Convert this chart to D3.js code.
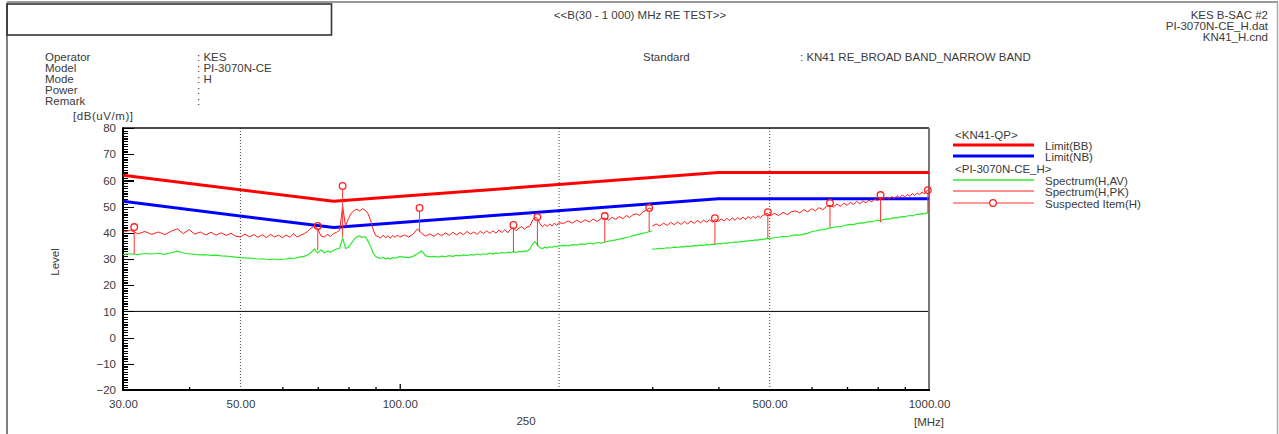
<!DOCTYPE html>
<html><head><meta charset="utf-8">
<script src="https://cdn.jsdelivr.net/npm/d3@7"></script>
<style>
html,body{margin:0;padding:0;background:#fff;overflow:hidden}
svg{display:block;font-family:"Liberation Sans",Arial,sans-serif}
text{fill:#3a3a3a;font-size:11.5px}
</style></head><body>
<script>
// ---------- DATA ----------
const limitFreq = [30, 75, 400, 1000];
const limitBB   = [62, 52, 63, 63];
const limitNB   = [52, 42, 53, 53];

// band 1 (30 - 300 MHz)
const freqLow = [
 30,31,32,33,34,35,36,37,38,39,40,41,42,43,44,45,46,47,48,49,
 50,51,52,53,54,55,56,57,58,59,60,61,62,63,64,65,66,67,68,69,
 70,71,72,73,74,75,76,77,78,79,80,81,82,83,84,85,86,87,88,89,
 90,91,92,93,94,95,96,97,98,99,100,
 102,104,106,108,110,112,114,116,118,120,122,124,126,128,130,132,134,136,138,140,
 142,144,146,148,150,152,154,156,158,160,162,164,166,168,170,172,174,176,178,180,
 182,184,186,188,190,192,194,196,198,200,
 204,208,212,216,220,224,228,232,236,240,244,248,252,256,260,264,268,272,276,280,
 284,288,292,296,300];
const pkLow = [
 40.2,41.0,39.6,40.5,39.4,40.3,39.3,40.6,41.5,39.7,
 41.2,39.5,40.3,39.2,40.2,39.1,40.0,39.0,39.8,38.7,
 38.4,39.5,38.5,39.3,38.3,39.2,38.2,39.4,38.4,39.1,
 38.1,39.2,38.3,39.6,38.4,39.1,39.7,40.5,41.8,42.5,
 41.5,38.8,38.4,39.4,38.6,39.7,40.2,41.0,50.0,42.5,
 45.5,47.5,48.5,49.0,48.3,49.2,48.6,47.5,45.0,41.5,
 39.0,38.6,38.0,39.1,38.1,38.9,37.9,39.0,38.2,39.2,38.3,
 39.2,38.4,39.5,41.5,39.8,38.7,39.6,38.6,39.8,38.9,
 40.0,39.0,40.2,39.2,40.1,39.3,40.5,39.5,40.3,39.4,
 40.6,39.7,40.8,39.8,40.7,39.9,41.0,40.1,41.2,40.0,
 41.4,41.8,40.8,41.8,42.4,41.3,42.2,42.5,44.5,46.0,
 45.5,43.5,42.3,43.2,42.4,43.4,42.6,43.7,42.8,43.8,
 43.6,44.5,43.7,44.8,43.9,45.0,44.1,45.2,44.3,45.4,
 45.6,44.8,45.9,45.1,46.2,45.4,46.6,45.8,47.0,47.2,
 46.6,48.0,48.5,49.5,48.8];
const avLow = [
 31.8,32.0,31.7,32.1,31.9,32.2,31.8,32.4,33.0,32.3,
 32.0,31.8,31.6,31.7,31.4,31.5,31.2,31.1,30.9,30.7,
 30.5,30.4,30.3,30.2,30.0,30.1,29.9,29.8,30.0,29.8,
 29.9,30.0,30.3,30.1,30.5,30.8,31.0,31.5,32.5,33.8,
 32.3,33.5,32.4,33.0,32.6,33.3,33.8,34.2,38.0,34.0,
 34.5,36.0,37.5,38.5,38.8,38.2,38.6,37.0,35.0,32.5,
 31.0,30.5,30.2,30.6,30.1,30.4,30.0,30.5,30.3,30.6,30.9,
 30.7,30.5,31.0,32.0,33.0,31.2,30.8,31.0,30.7,31.1,
 30.9,31.3,31.0,31.4,31.2,31.6,31.3,31.7,31.5,31.9,
 31.6,32.0,31.8,32.2,31.9,32.3,32.1,32.5,32.2,32.6,
 32.4,32.8,32.5,32.9,32.7,33.1,33.0,33.6,35.5,36.6,
 35.5,34.3,34.0,34.5,34.2,34.7,34.4,34.9,34.6,35.0,
 35.2,35.0,35.5,35.3,35.8,35.6,36.0,35.8,36.3,36.1,
 36.5,36.8,37.0,37.3,37.6,37.9,38.2,38.5,38.9,39.2,
 39.5,39.8,40.1,40.4,40.8];

// band 2 (300 - 1000 MHz)
const freqHigh = [
 300,305,310,315,320,325,330,335,340,345,350,355,360,365,370,375,380,385,390,395,
 400,405,410,415,420,425,430,435,440,445,450,455,460,465,470,475,480,485,490,495,500,
 510,520,530,540,550,560,570,580,590,600,610,620,630,640,650,660,670,680,690,700,
 710,720,730,740,750,760,770,780,790,800,810,820,830,840,850,860,870,880,890,900,
 910,920,930,940,950,960,970,980,990,1000];
const pkHigh = [
 42.5,43.4,42.6,43.7,42.8,44.0,43.1,44.1,43.2,44.3,
 43.4,44.5,43.6,44.7,43.8,44.8,44.0,45.0,44.1,45.2,
 44.4,45.3,44.5,45.5,44.6,45.7,44.8,45.8,45.0,46.0,
 45.1,46.2,45.3,46.3,45.5,46.5,45.7,46.7,46.9,47.5,46.4,
 47.4,46.6,47.8,46.9,48.1,48.3,47.6,48.8,48.0,49.2,
 48.4,49.6,48.8,50.0,50.5,49.8,51.0,50.1,51.3,50.5,
 51.6,50.8,52.0,51.1,52.2,51.4,52.5,51.8,52.9,52.2,
 53.5,52.6,53.6,52.8,53.9,53.1,54.2,53.4,54.4,53.7,
 54.7,53.9,55.0,54.2,55.2,54.5,55.6,54.8,56.0,56.5];
const avHigh = [
 33.8,33.9,34.1,34.0,34.3,34.2,34.5,34.4,34.7,34.6,
 34.9,34.8,35.1,35.0,35.3,35.2,35.5,35.4,35.7,35.6,
 35.9,35.8,36.1,36.0,36.3,36.2,36.5,36.4,36.7,36.6,
 36.9,36.8,37.1,37.0,37.3,37.2,37.5,37.4,37.7,37.9,37.8,
 38.1,38.3,38.6,38.5,38.9,39.2,39.1,39.5,39.8,40.4,
 40.7,41.0,41.2,41.5,41.9,42.1,42.4,42.3,42.7,43.0,
 43.2,43.1,43.5,43.8,43.7,44.0,44.3,44.2,44.5,44.8,
 44.7,45.0,45.3,45.2,45.5,45.8,45.7,46.0,46.2,46.1,
 46.4,46.6,46.5,46.8,47.0,47.0,47.3,47.2,47.5,47.6];

// suspected items
const suspFreq = [31.5, 70, 78, 109, 164, 182, 244, 296, 394, 496, 650, 810, 995];
const suspPk   = [42.2, 42.6, 57.9, 49.5, 43.0, 46.0, 46.4, 49.5, 45.6, 47.9, 51.4, 54.4, 56.3];
const suspLow  = [31.9, 33.4, 38.4, 40.3, 32.7, 35.0, 36.5, 40.3, 35.7, 38.0, 42.2, 44.1, 47.6];

// axis ticks
const yMajor = [-20,-10,0,10,20,30,40,50,60,70,80];
const yMinor = [-19,-18,-17,-16,-15,-14,-13,-12,-11,-9,-8,-7,-6,-5,-4,-3,-2,-1,
  1,2,3,4,5,6,7,8,9,11,12,13,14,15,16,17,18,19,21,22,23,24,25,26,27,28,29,
  31,32,33,34,35,36,37,38,39,41,42,43,44,45,46,47,48,49,51,52,53,54,55,56,57,58,59,
  61,62,63,64,65,66,67,68,69,71,72,73,74,75,76,77,78,79];
const xLabels = [30, 50, 100, 500, 1000];
const xMinor = [40,60,70,80,90,300,400,600,700,800,900];
const xMid = [100];
const xGrid = [50, 200, 500];

const infoLabels = ["Operator","Model","Mode","Power","Remark"];
const infoValues = [": KES",": PI-3070N-CE",": H",":",":"];
const headerRight = ["KES B-SAC #2","PI-3070N-CE_H.dat","KN41_H.cnd"];

// ---------- DRAW ----------
const W = 1279, H = 434;
const svg = d3.select("body").append("svg").attr("width", W).attr("height", H);
const L = 123, R = 929, T = 128, B = 390;
const x = d3.scaleLog().domain([30, 1000]).range([L, R]);
const y = d3.scaleLinear().domain([-20, 80]).range([B, T]);

// page frame
svg.append("line").attr("x1",7).attr("x2",1278).attr("y1",2).attr("y2",2).attr("stroke","#999").attr("stroke-width",2);
svg.append("line").attr("x1",1277.5).attr("x2",1277.5).attr("y1",2).attr("y2",H).attr("stroke","#aaa").attr("stroke-width",1.5);
svg.append("line").attr("x1",7).attr("x2",7).attr("y1",3).attr("y2",H).attr("stroke","#555").attr("stroke-width",1.5);
svg.append("rect").attr("x",7).attr("y",4).attr("width",324.5).attr("height",31).attr("fill","none").attr("stroke","#333").attr("stroke-width",1.6);

// header
svg.append("text").attr("x",640).attr("y",19).attr("text-anchor","middle").text("<<B(30 - 1 000) MHz RE TEST>>");
headerRight.forEach((t,i)=>svg.append("text").attr("x",1268).attr("y",18.5+i*11).attr("text-anchor","end").text(t));
infoLabels.forEach((t,i)=>svg.append("text").attr("x",45).attr("y",60.8+i*11.1).text(t));
infoValues.forEach((t,i)=>svg.append("text").attr("x",197).attr("y",60.8+i*11.1).text(t));
svg.append("text").attr("x",643).attr("y",60.8).text("Standard");
svg.append("text").attr("x",800).attr("y",60.8).text(": KN41 RE_BROAD BAND_NARROW BAND");

// grid
xGrid.forEach(f=>svg.append("line").attr("x1",x(f)).attr("x2",x(f)).attr("y1",T).attr("y2",B)
  .attr("stroke","#444").attr("stroke-width",1).attr("stroke-dasharray","1,2"));
svg.append("line").attr("x1",L).attr("x2",R).attr("y1",y(10)).attr("y2",y(10)).attr("stroke","#000").attr("stroke-width",1);

// frame of plot
svg.append("line").attr("x1",L).attr("x2",R).attr("y1",T).attr("y2",T).attr("stroke","#111").attr("stroke-width",1.5);
svg.append("line").attr("x1",R).attr("x2",R).attr("y1",T).attr("y2",B).attr("stroke","#777").attr("stroke-width",2);

// y axis ticks
const gy1 = svg.append("g").attr("transform",`translate(${L},0)`)
  .call(d3.axisRight(y).tickValues(yMinor).tickSize(5).tickFormat(""));
const gy2 = svg.append("g").attr("transform",`translate(${L},0)`)
  .call(d3.axisRight(y).tickValues(yMajor).tickSize(11).tickFormat(""));
const gy3 = svg.append("g").attr("transform",`translate(${L},0)`)
  .call(d3.axisLeft(y).tickValues(yMajor).tickSize(0).tickPadding(7)
    .tickFormat(d=> d<0 ? "\u2212"+(-d) : String(d)));
[gy1,gy2,gy3].forEach(g=>{g.select(".domain").remove();
  g.selectAll(".tick line").attr("stroke","#000").attr("stroke-width",1.2).attr("shape-rendering","crispEdges");});
gy3.attr("font-family",null).attr("font-size",null);
gy3.selectAll("text").attr("fill","#3a3a3a");

// x axis
const gx1 = svg.append("g").attr("transform",`translate(0,${B})`)
  .call(d3.axisTop(x).tickValues(xMinor).tickSize(3).tickFormat(""));
const gx2 = svg.append("g").attr("transform",`translate(0,${B})`)
  .call(d3.axisTop(x).tickValues(xMid).tickSize(6).tickFormat(""));
const gx3 = svg.append("g").attr("transform",`translate(0,${B})`)
  .call(d3.axisBottom(x).tickValues(xLabels).tickSize(0).tickPadding(10).tickFormat(d3.format(".2f")));
[gx1,gx2,gx3].forEach(g=>{g.select(".domain").remove();
  g.selectAll(".tick line").attr("stroke","#000").attr("stroke-width",1.3);});
gx3.attr("font-family",null).attr("font-size",null);
gx3.selectAll("text").attr("fill","#3a3a3a");

// axis lines
svg.append("line").attr("x1",L).attr("x2",L).attr("y1",T-0.75).attr("y2",B+1).attr("stroke","#000").attr("stroke-width",2);
svg.append("line").attr("x1",L).attr("x2",R+1).attr("y1",B).attr("y2",B).attr("stroke","#000").attr("stroke-width",2);

// axis captions
svg.append("text").attr("x",73).attr("y",120).attr("textLength",60).text("[dB(uV/m)]");
svg.append("text").attr("transform","translate(59,262) rotate(-90)").attr("text-anchor","middle").text("Level");
svg.append("text").attr("x",526).attr("y",425).attr("text-anchor","middle").text("250");
svg.append("text").attr("x",x(1000)).attr("y",425.5).attr("text-anchor","middle").text("[MHz]");

// limits
const line = d3.line().x(d=>x(d[0])).y(d=>y(d[1]));
svg.append("path").attr("d",line(limitFreq.map((f,i)=>[f,limitBB[i]]))).attr("fill","none").attr("stroke","#ff0000").attr("stroke-width",3);
svg.append("path").attr("d",line(limitFreq.map((f,i)=>[f,limitNB[i]]))).attr("fill","none").attr("stroke","#0000ff").attr("stroke-width",3);

// spectra
svg.append("clipPath").attr("id","pc").append("rect").attr("x",L).attr("y",T).attr("width",R-L).attr("height",B-T);
const gs = svg.append("g").attr("clip-path","url(#pc)");
[[freqLow,avLow],[freqHigh,avHigh]].forEach(([fs,vs])=>
  gs.append("path").attr("d",line(fs.map((f,i)=>[f,vs[i]]))).attr("fill","none").attr("stroke","#2ee82e").attr("stroke-width",1.2));
[[freqLow,pkLow],[freqHigh,pkHigh]].forEach(([fs,vs])=>
  gs.append("path").attr("d",line(fs.map((f,i)=>[f,vs[i]]))).attr("fill","none").attr("stroke","#ff1a1a").attr("stroke-width",1));

// suspected items
suspFreq.forEach((f,i)=>{
  gs.append("line").attr("x1",x(f)).attr("x2",x(f)).attr("y1",y(suspLow[i])).attr("y2",y(suspPk[i])+3.3)
    .attr("stroke","#ff3030").attr("stroke-width",1);
  svg.append("circle").attr("cx",x(f)).attr("cy",y(suspPk[i])).attr("r",3.3)
    .attr("fill","none").attr("stroke","#ff2020").attr("stroke-width",1.3);
});

// legend
const lx1 = 953, lx2 = 1034, tx = 1045;
svg.append("text").attr("x",955).attr("y",139).text("<KN41-QP>");
svg.append("line").attr("x1",lx1).attr("x2",lx2).attr("y1",145).attr("y2",145).attr("stroke","#ff0000").attr("stroke-width",3);
svg.append("text").attr("x",tx).attr("y",150).text("Limit(BB)");
svg.append("line").attr("x1",lx1).attr("x2",lx2).attr("y1",156).attr("y2",156).attr("stroke","#0000ff").attr("stroke-width",3);
svg.append("text").attr("x",tx).attr("y",161).text("Limit(NB)");
svg.append("text").attr("x",955).attr("y",172.5).text("<PI-3070N-CE_H>");
svg.append("line").attr("x1",lx1).attr("x2",lx2).attr("y1",180).attr("y2",180).attr("stroke","#2ee82e").attr("stroke-width",1.3);
svg.append("text").attr("x",tx).attr("y",185).text("Spectrum(H,AV)");
svg.append("line").attr("x1",lx1).attr("x2",lx2).attr("y1",191).attr("y2",191).attr("stroke","#ff1a1a").attr("stroke-width",1);
svg.append("text").attr("x",tx).attr("y",196).text("Spectrum(H,PK)");
svg.append("line").attr("x1",lx1).attr("x2",lx2).attr("y1",203).attr("y2",203).attr("stroke","#ff3030").attr("stroke-width",1);
svg.append("circle").attr("cx",993).attr("cy",203).attr("r",3.3).attr("fill","#fff").attr("stroke","#ff2020").attr("stroke-width",1.3);
svg.append("text").attr("x",tx).attr("y",207.5).text("Suspected Item(H)");
</script>
</body></html>
